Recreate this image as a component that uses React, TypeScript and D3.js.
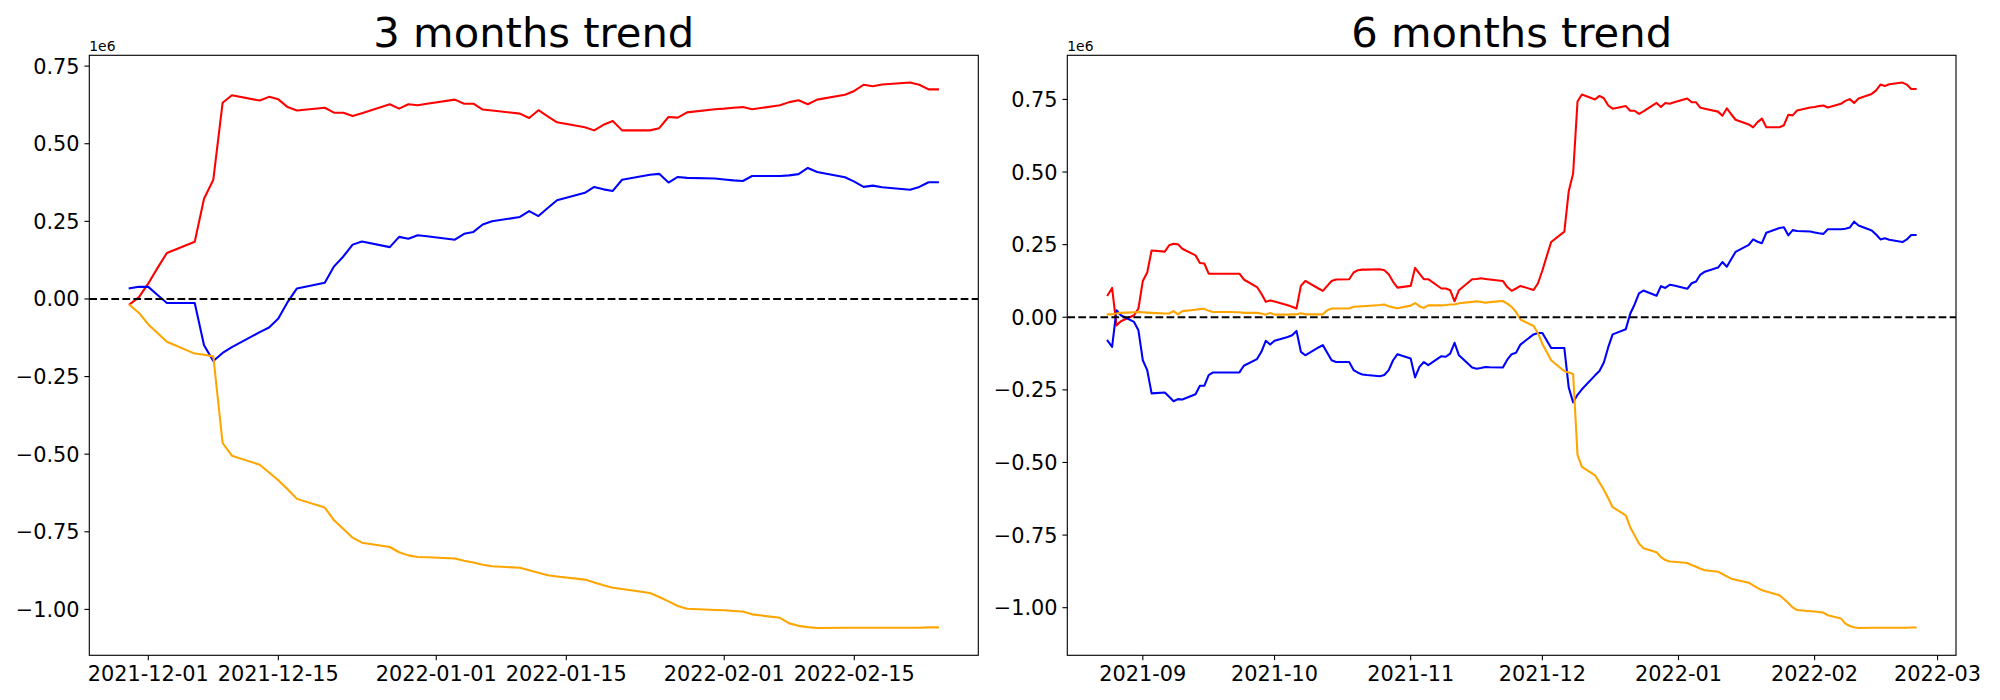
import React from "react";
import * as d3 from "d3";

// ---------- DATA (values in units of 1e6) ----------
const leftDates = [
  "2021-11-29", "2021-11-30", "2021-12-01", "2021-12-02", "2021-12-03",
  "2021-12-06", "2021-12-07", "2021-12-08", "2021-12-09", "2021-12-10",
  "2021-12-13", "2021-12-14", "2021-12-15", "2021-12-16", "2021-12-17",
  "2021-12-20", "2021-12-21", "2021-12-22", "2021-12-23", "2021-12-24",
  "2021-12-27", "2021-12-28", "2021-12-29", "2021-12-30", "2021-12-31",
  "2022-01-03", "2022-01-04", "2022-01-05", "2022-01-06", "2022-01-07",
  "2022-01-10", "2022-01-11", "2022-01-12", "2022-01-13", "2022-01-14",
  "2022-01-17", "2022-01-18", "2022-01-19", "2022-01-20", "2022-01-21",
  "2022-01-24", "2022-01-25", "2022-01-26", "2022-01-27", "2022-01-28",
  "2022-01-31", "2022-02-01", "2022-02-02", "2022-02-03", "2022-02-04",
  "2022-02-07", "2022-02-08", "2022-02-09", "2022-02-10", "2022-02-11",
  "2022-02-14", "2022-02-15", "2022-02-16", "2022-02-17", "2022-02-18",
  "2022-02-21", "2022-02-22", "2022-02-23", "2022-02-24",
];
const leftRed = [
  -0.017, 0.006, 0.05, 0.1, 0.148,
  0.184, 0.323, 0.384, 0.632, 0.656,
  0.639, 0.651, 0.643, 0.618, 0.607,
  0.616, 0.6, 0.6, 0.589, 0.598,
  0.627, 0.613, 0.627, 0.624, 0.629,
  0.642, 0.629, 0.629, 0.61, 0.607,
  0.597, 0.583, 0.608, 0.588, 0.569,
  0.553, 0.543, 0.561, 0.573, 0.543,
  0.543, 0.55, 0.586, 0.584, 0.601,
  0.611, 0.613, 0.616, 0.618, 0.611,
  0.624, 0.634, 0.64, 0.627, 0.642,
  0.658, 0.67, 0.69, 0.685, 0.691,
  0.697, 0.69, 0.675, 0.675,
];
const leftBlue = [
  0.034, 0.039, 0.039, 0.013, -0.013,
  -0.013, -0.149, -0.2, -0.174, -0.155,
  -0.107, -0.092, -0.063, -0.01, 0.034,
  0.052, 0.105, 0.137, 0.175, 0.185,
  0.167, 0.2, 0.194, 0.205, 0.202,
  0.191, 0.21, 0.216, 0.24, 0.25,
  0.264, 0.283, 0.267, 0.293, 0.318,
  0.342, 0.361, 0.353, 0.348, 0.384,
  0.4, 0.403, 0.375, 0.393, 0.39,
  0.388, 0.385, 0.382, 0.38, 0.396,
  0.396, 0.398, 0.402, 0.422, 0.409,
  0.392, 0.378, 0.361, 0.365, 0.36,
  0.352, 0.361, 0.376, 0.376,
];
const leftOrange = [
  -0.02, -0.045, -0.082, -0.11, -0.138,
  -0.176, -0.18, -0.185, -0.464, -0.505,
  -0.534, -0.559, -0.584, -0.613, -0.644,
  -0.672, -0.713, -0.741, -0.769, -0.785,
  -0.799, -0.816, -0.826, -0.831, -0.832,
  -0.836, -0.843, -0.849, -0.856, -0.861,
  -0.866, -0.874, -0.882, -0.89, -0.894,
  -0.904, -0.913, -0.922, -0.93, -0.934,
  -0.947, -0.96, -0.974, -0.989, -0.998,
  -1.002, -1.003, -1.005, -1.007, -1.016,
  -1.027, -1.045, -1.053, -1.057, -1.06,
  -1.059, -1.059, -1.059, -1.059, -1.059,
  -1.059, -1.059, -1.058, -1.058,
];

const rightDates = [
  "2021-08-24", "2021-08-25", "2021-08-26", "2021-08-27", "2021-08-30", "2021-08-31",
  "2021-09-01", "2021-09-02", "2021-09-03", "2021-09-06", "2021-09-07", "2021-09-08",
  "2021-09-09", "2021-09-10", "2021-09-13", "2021-09-14", "2021-09-15", "2021-09-16",
  "2021-09-17", "2021-09-20", "2021-09-21", "2021-09-22", "2021-09-23", "2021-09-24",
  "2021-09-27", "2021-09-28", "2021-09-29", "2021-09-30",
  "2021-10-01", "2021-10-04", "2021-10-05", "2021-10-06", "2021-10-07", "2021-10-08",
  "2021-10-11", "2021-10-12", "2021-10-13", "2021-10-14", "2021-10-15", "2021-10-18",
  "2021-10-19", "2021-10-20", "2021-10-21", "2021-10-22", "2021-10-25", "2021-10-26",
  "2021-10-27", "2021-10-28", "2021-10-29",
  "2021-11-01", "2021-11-02", "2021-11-03", "2021-11-04", "2021-11-05", "2021-11-08",
  "2021-11-09", "2021-11-10", "2021-11-11", "2021-11-12", "2021-11-15", "2021-11-16",
  "2021-11-17", "2021-11-18", "2021-11-19", "2021-11-22", "2021-11-23", "2021-11-24",
  "2021-11-25", "2021-11-26",
  "2021-11-29", "2021-11-30", "2021-12-01", "2021-12-02", "2021-12-03",
  "2021-12-06", "2021-12-07", "2021-12-08", "2021-12-09", "2021-12-10",
  "2021-12-13", "2021-12-14", "2021-12-15", "2021-12-16", "2021-12-17",
  "2021-12-20", "2021-12-21", "2021-12-22", "2021-12-23", "2021-12-24",
  "2021-12-27", "2021-12-28", "2021-12-29", "2021-12-30", "2021-12-31",
  "2022-01-03", "2022-01-04", "2022-01-05", "2022-01-06", "2022-01-07",
  "2022-01-10", "2022-01-11", "2022-01-12", "2022-01-13", "2022-01-14",
  "2022-01-17", "2022-01-18", "2022-01-19", "2022-01-20", "2022-01-21",
  "2022-01-24", "2022-01-25", "2022-01-26", "2022-01-27", "2022-01-28",
  "2022-01-31", "2022-02-01", "2022-02-02", "2022-02-03", "2022-02-04",
  "2022-02-07", "2022-02-08", "2022-02-09", "2022-02-10", "2022-02-11",
  "2022-02-14", "2022-02-15", "2022-02-16", "2022-02-17", "2022-02-18",
  "2022-02-21", "2022-02-22", "2022-02-23", "2022-02-24",
];
const rightRed = [
  0.076, 0.101, -0.028, -0.014, 0.007, 0.03,
  0.125, 0.154, 0.23, 0.226, 0.248, 0.253, 0.251, 0.236, 0.213, 0.187, 0.185, 0.15,
  0.15, 0.15, 0.15, 0.15, 0.15, 0.13, 0.104, 0.081, 0.053, 0.058,
  0.054, 0.041, 0.036, 0.03, 0.108, 0.125, 0.099, 0.091, 0.108, 0.125, 0.13, 0.131,
  0.154, 0.162, 0.164, 0.164, 0.165, 0.162, 0.148, 0.122, 0.102,
  0.108, 0.17, 0.15, 0.131, 0.131, 0.099, 0.099, 0.093, 0.055, 0.093, 0.131, 0.132,
  0.134, 0.132, 0.13, 0.125, 0.104, 0.091, 0.099, 0.108,
  0.094, 0.117, 0.161, 0.211, 0.259,
  0.295, 0.434, 0.495, 0.743, 0.767,
  0.75, 0.762, 0.754, 0.729, 0.718,
  0.727, 0.711, 0.711, 0.7, 0.709,
  0.738, 0.724, 0.738, 0.735, 0.74,
  0.753, 0.74, 0.74, 0.721, 0.718,
  0.708, 0.694, 0.719, 0.699, 0.68,
  0.664, 0.654, 0.672, 0.684, 0.654,
  0.654, 0.661, 0.697, 0.695, 0.712,
  0.722, 0.724, 0.727, 0.729, 0.722,
  0.735, 0.745, 0.751, 0.738, 0.753,
  0.769, 0.781, 0.801, 0.796, 0.802,
  0.808, 0.801, 0.786, 0.786,
];
const rightBlue = [
  -0.081, -0.102, 0.024, 0.007, -0.016, -0.045,
  -0.148, -0.182, -0.262, -0.259, -0.274, -0.289, -0.282, -0.283, -0.265, -0.236, -0.236, -0.199,
  -0.19, -0.19, -0.19, -0.19, -0.19, -0.167, -0.144, -0.119, -0.081, -0.094,
  -0.081, -0.068, -0.062, -0.047, -0.119, -0.131, -0.104, -0.096, -0.122, -0.148, -0.154, -0.154,
  -0.182, -0.191, -0.197, -0.199, -0.203, -0.199, -0.182, -0.148, -0.127,
  -0.142, -0.207, -0.171, -0.154, -0.165, -0.134, -0.136, -0.125, -0.088, -0.131, -0.173, -0.177,
  -0.175, -0.171, -0.172, -0.173, -0.146, -0.127, -0.122, -0.094,
  -0.059, -0.054, -0.054, -0.08, -0.106,
  -0.106, -0.242, -0.293, -0.267, -0.248,
  -0.2, -0.185, -0.156, -0.103, -0.059,
  -0.041, 0.012, 0.044, 0.082, 0.092,
  0.074, 0.107, 0.101, 0.112, 0.109,
  0.098, 0.117, 0.123, 0.147, 0.157,
  0.171, 0.19, 0.174, 0.2, 0.225,
  0.249, 0.268, 0.26, 0.255, 0.291,
  0.307, 0.31, 0.282, 0.3, 0.297,
  0.295, 0.292, 0.289, 0.287, 0.303,
  0.303, 0.305, 0.309, 0.329, 0.316,
  0.299, 0.285, 0.268, 0.272, 0.267,
  0.259, 0.268, 0.283, 0.283,
];
const rightOrange = [
  0.01, 0.01, 0.013, 0.015, 0.017, 0.018,
  0.017, 0.016, 0.015, 0.013, 0.013, 0.021, 0.01, 0.021, 0.026, 0.028, 0.029, 0.022,
  0.018, 0.018, 0.018, 0.017, 0.017, 0.015, 0.015, 0.013, 0.009, 0.015,
  0.009, 0.009, 0.01, 0.01, 0.014, 0.01, 0.01, 0.01, 0.024, 0.03, 0.03, 0.03,
  0.036, 0.037, 0.038, 0.039, 0.042, 0.044, 0.038, 0.034, 0.031,
  0.04, 0.049, 0.038, 0.032, 0.041, 0.041, 0.042, 0.044, 0.044, 0.048, 0.053, 0.055,
  0.053, 0.05, 0.052, 0.056, 0.047, 0.036, 0.018, -0.008,
  -0.03, -0.055, -0.092, -0.12, -0.148,
  -0.186, -0.19, -0.195, -0.474, -0.515,
  -0.544, -0.569, -0.594, -0.623, -0.654,
  -0.682, -0.723, -0.751, -0.779, -0.795,
  -0.809, -0.826, -0.836, -0.841, -0.842,
  -0.846, -0.853, -0.859, -0.866, -0.871,
  -0.876, -0.884, -0.892, -0.9, -0.904,
  -0.914, -0.923, -0.932, -0.94, -0.944,
  -0.957, -0.97, -0.984, -0.999, -1.008,
  -1.012, -1.013, -1.015, -1.017, -1.026,
  -1.037, -1.055, -1.063, -1.067, -1.07,
  -1.069, -1.069, -1.069, -1.069, -1.069,
  -1.069, -1.069, -1.068, -1.068,
];

const yTickValues = [-1.0, -0.75, -0.5, -0.25, 0, 0.25, 0.5, 0.75];
const leftXTicks = ["2021-12-01", "2021-12-15", "2022-01-01", "2022-01-15", "2022-02-01", "2022-02-15"];
const rightXTicks = ["2021-09-01", "2021-10-01", "2021-11-01", "2021-12-01", "2022-01-01", "2022-02-01", "2022-03-01"];

// ---------- LAYOUT ----------
const W = 2000;
const H = 700;
const AX_TOP = 55.3;
const AX_BOTTOM = 655.3;
const FONT = "DejaVu Sans, Liberation Sans, sans-serif";
const TICK_LEN = 4.86;
const TICK_PAD = 4.86;
const LW = 2.08;

const parse = (s: string) => new Date(s + "T00:00:00Z");
const fmtY = (v: number) => (v < 0 ? "\u2212" + Math.abs(v).toFixed(2) : v.toFixed(2));

type PanelProps = {
  id: string;
  left: number;
  right: number;
  title: string;
  dates: string[];
  red: number[];
  blue: number[];
  orange: number[];
  xTicks: string[];
  xLabel: (s: string) => string;
};

function Panel({ id, left, right, title, dates, red, blue, orange, xTicks, xLabel }: PanelProps) {
  const parsed = dates.map(parse);
  const t0 = +parsed[0];
  const t1 = +parsed[parsed.length - 1];
  const span = t1 - t0;
  const x = d3
    .scaleUtc()
    .domain([new Date(t0 - 0.05 * span), new Date(t1 + 0.05 * span)])
    .range([left, right]);
  const all = [...red, ...blue, ...orange];
  const lo = d3.min(all) as number;
  const hi = d3.max(all) as number;
  const r = hi - lo;
  const y = d3.scaleLinear().domain([lo - 0.05 * r, hi + 0.05 * r]).range([AX_BOTTOM, AX_TOP]);
  const line = d3
    .line<number>()
    .x((_, i) => x(parsed[i]))
    .y((v) => y(v));

  const series = [
    { vals: red, color: "#ff0000" },
    { vals: blue, color: "#0000ff" },
    { vals: orange, color: "#ffa500" },
  ];

  return (
    <g>
      <defs>
        <clipPath id={id}>
          <rect x={left} y={AX_TOP} width={right - left} height={AX_BOTTOM - AX_TOP} />
        </clipPath>
      </defs>
      <g clipPath={`url(#${id})`}>
        {series.map((s, i) => (
          <path
            key={i}
            d={line(s.vals) || ""}
            fill="none"
            stroke={s.color}
            strokeWidth={LW}
            strokeLinejoin="round"
            strokeLinecap="square"
          />
        ))}
        <line
          x1={left}
          x2={right}
          y1={y(0)}
          y2={y(0)}
          stroke="#000"
          strokeWidth={LW}
          strokeDasharray="7.7 3.33"
        />
      </g>
      <rect
        x={left}
        y={AX_TOP}
        width={right - left}
        height={AX_BOTTOM - AX_TOP}
        fill="none"
        stroke="#000"
        strokeWidth={1.11}
      />
      {yTickValues.map((v) => (
        <g key={v}>
          <line x1={left - TICK_LEN} x2={left} y1={y(v)} y2={y(v)} stroke="#000" strokeWidth={1.11} />
          <text
            x={left - TICK_LEN - TICK_PAD}
            y={y(v) + 7.5}
            textAnchor="end"
            fontSize={20.83}
            fontFamily={FONT}
            fill="#000"
          >
            {fmtY(v)}
          </text>
        </g>
      ))}
      {xTicks.map((s) => {
        const xx = x(parse(s));
        return (
          <g key={s}>
            <line x1={xx} x2={xx} y1={AX_BOTTOM} y2={AX_BOTTOM + TICK_LEN} stroke="#000" strokeWidth={1.11} />
            <text x={xx} y={681} textAnchor="middle" fontSize={20.83} fontFamily={FONT} fill="#000">
              {xLabel(s)}
            </text>
          </g>
        );
      })}
      <text x={left} y={51} fontSize={13.89} fontFamily={FONT} fill="#000">
        1e6
      </text>
      <text x={(left + right) / 2} y={47} textAnchor="middle" fontSize={41.67} fontFamily={FONT} fill="#000">
        {title}
      </text>
    </g>
  );
}

export default function App() {
  return (
    <svg
      width={W}
      height={H}
      viewBox={`0 0 ${W} ${H}`}
      style={{ position: "absolute", left: 0, top: 0, background: "#fff" }}
    >
      <rect x={0} y={0} width={W} height={H} fill="#fff" />
      <Panel
        id="clip-left"
        left={89.3}
        right={978.3}
        title="3 months trend"
        dates={leftDates}
        red={leftRed}
        blue={leftBlue}
        orange={leftOrange}
        xTicks={leftXTicks}
        xLabel={(s) => s}
      />
      <Panel
        id="clip-right"
        left={1067.3}
        right={1956}
        title="6 months trend"
        dates={rightDates}
        red={rightRed}
        blue={rightBlue}
        orange={rightOrange}
        xTicks={rightXTicks}
        xLabel={(s) => s.slice(0, 7)}
      />
    </svg>
  );
}
